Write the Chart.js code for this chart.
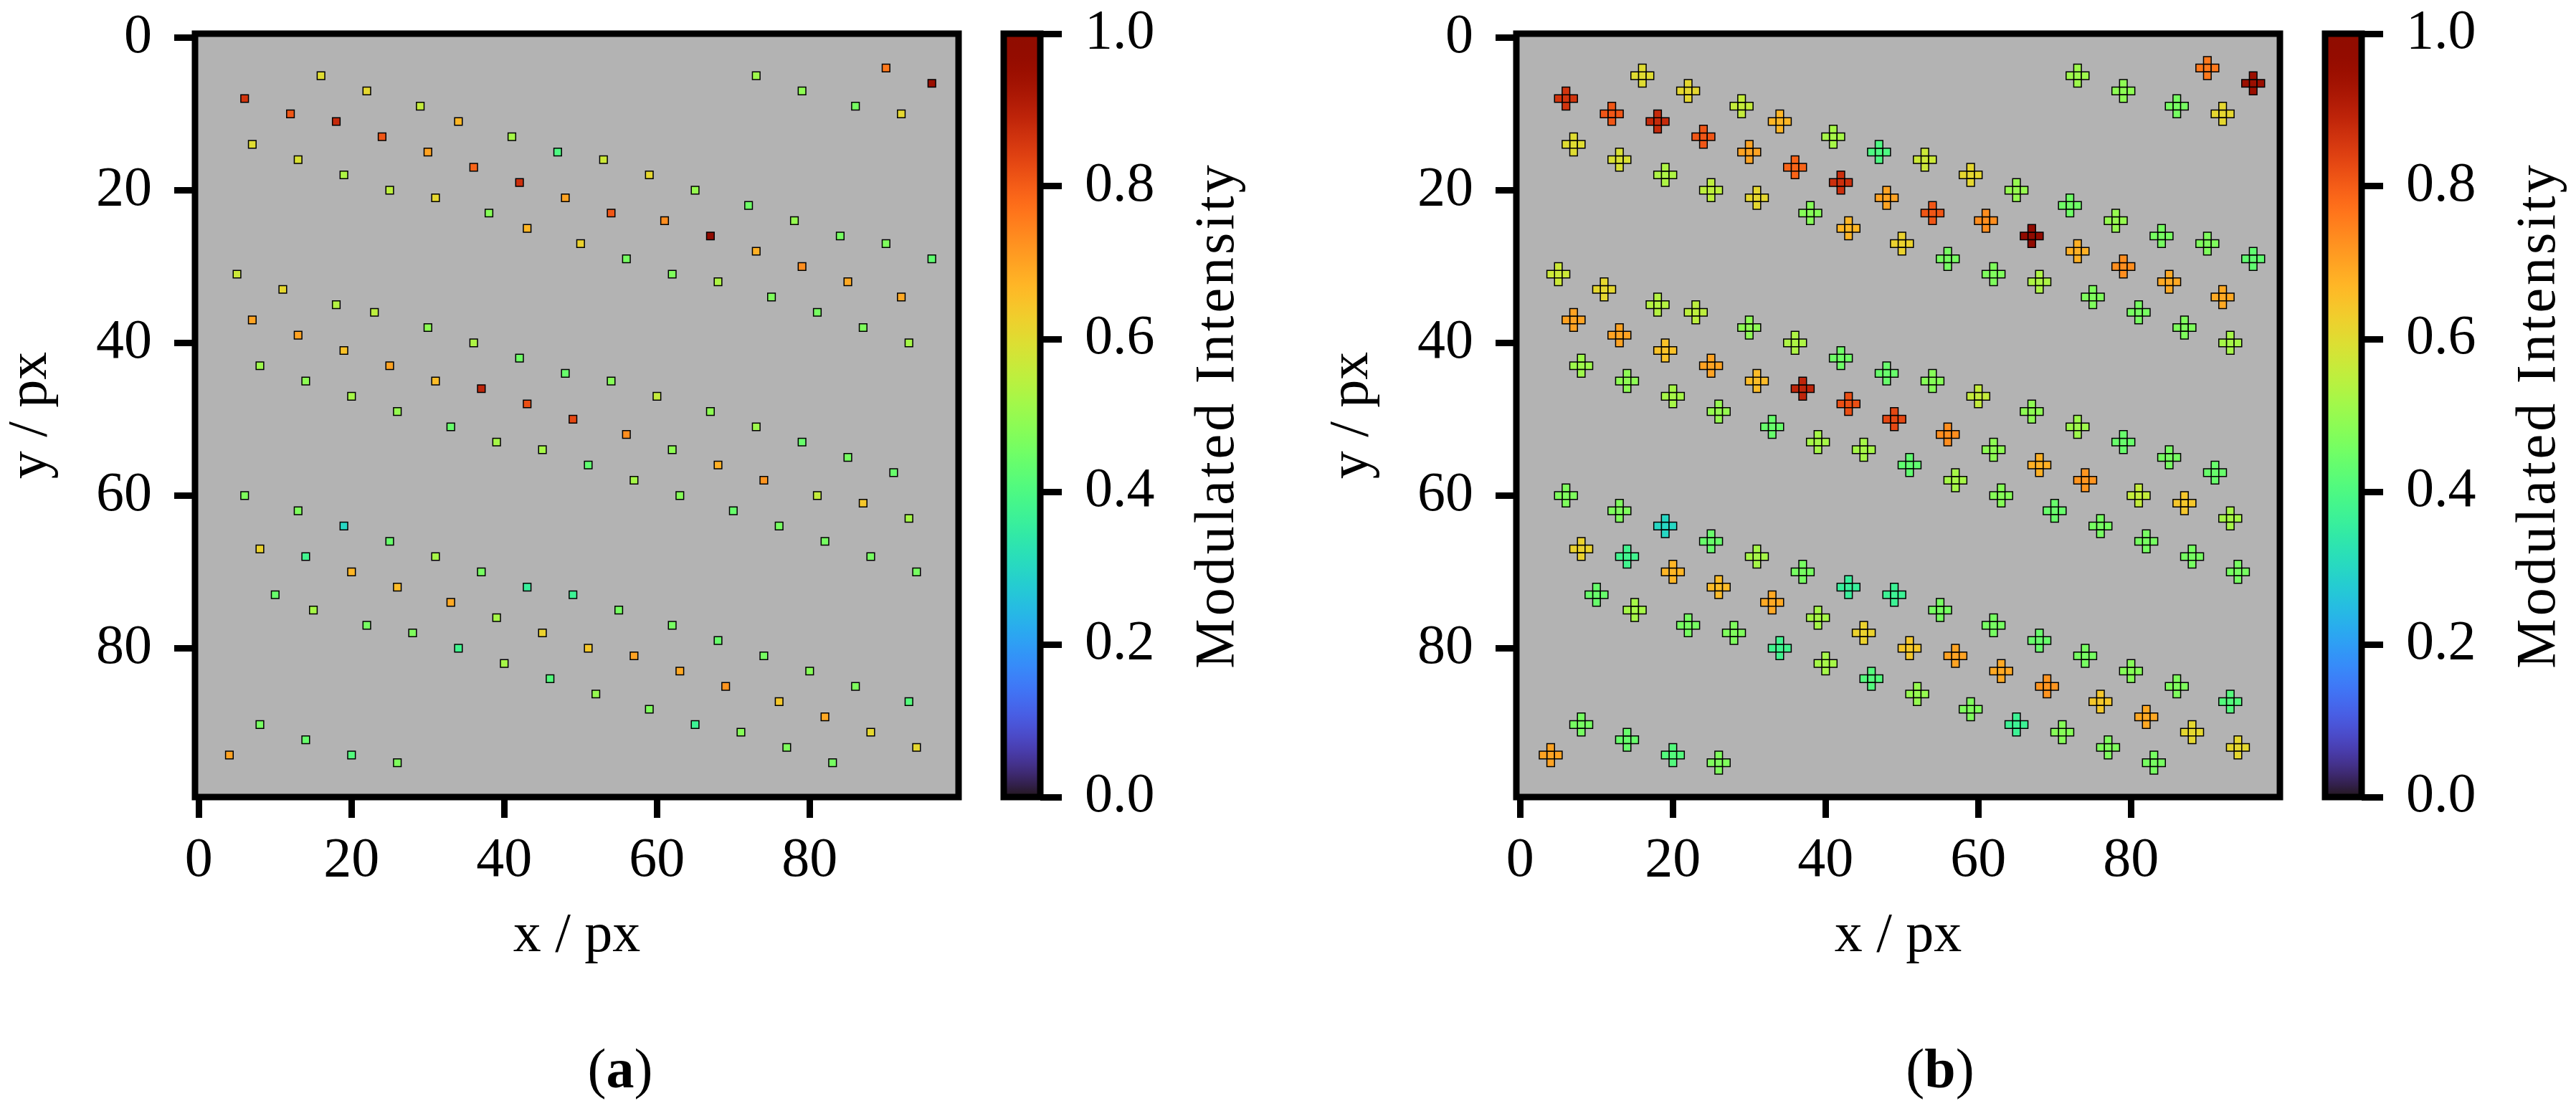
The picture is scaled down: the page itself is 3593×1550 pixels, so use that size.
<!DOCTYPE html>
<html>
<head>
<meta charset="utf-8">
<script src="https://cdn.jsdelivr.net/npm/chart.js@4.4.1/dist/chart.umd.min.js"></script>
<style>
  html, body { margin: 0; padding: 0; background: #fff; overflow: hidden; }
  #wrap { position: relative; width: 3593px; height: 1550px; overflow: hidden; }
  canvas { position: absolute; top: 0; }
  .tag { position: absolute; width: 400px; text-align: center; top: 1452px;
         font: 78px/1 'Liberation Serif', serif; color: #000; }
</style>
</head>
<body>
<div id="wrap">
  <canvas id="scatA" width="1380" height="1550" style="left:0px"></canvas>
  <canvas id="cbA" width="390" height="1550" style="left:1360px"></canvas>
  <canvas id="scatB" width="1380" height="1550" style="left:1843px"></canvas>
  <canvas id="cbB" width="390" height="1550" style="left:3203px"></canvas>
  <div class="tag" style="left:665px">(<b>a</b>)</div>
  <div class="tag" style="left:2506px">(<b>b</b>)</div>
</div>
<script>
// pixel positions of the detected spots (x, y in px) and their modulated intensity
const xs = [
  6, 12, 18, 24, 30, 36, 42, 48, 54, 61, 67, 73, 79, 85, 92,
  16, 22, 29, 34, 41, 47, 53, 59, 65, 72, 78, 84, 90, 96,
  7, 13, 19, 25, 31, 38, 43, 50, 56, 62, 68, 75, 81, 87, 93,
  73, 79, 86, 92, 90, 96,
  5, 11, 18, 23, 30, 36, 42, 48, 54, 60, 67, 73, 79, 85, 91,
  7, 13, 19, 25, 31, 37, 43, 49, 56, 62, 68, 74, 81, 87, 93,
  8, 14, 20, 26, 33, 39, 45, 51, 57, 63, 70, 76, 82, 88, 94,
  6, 13, 19, 25, 31, 37, 43, 49, 55, 62, 68, 74, 80, 86, 93,
  8, 14, 20, 26, 33, 39, 45, 51, 57, 63, 69, 76, 82, 88, 94,
  10, 15, 22, 28, 34, 40, 46, 52, 59, 65, 71, 77, 83,
  4, 8, 14, 20, 26
];
const ys = [
  8, 10, 11, 13, 15, 17, 19, 21, 23, 24, 26, 28, 30, 32, 34,
  5, 7, 9, 11, 13, 15, 16, 18, 20, 22, 24, 26, 27, 29,
  14, 16, 18, 20, 21, 23, 25, 27, 29, 31, 32, 34, 36, 38, 40,
  5, 7, 9, 10, 4, 6,
  31, 33, 35, 36, 38, 40, 42, 44, 45, 47, 49, 51, 53, 55, 57,
  37, 39, 41, 43, 45, 46, 48, 50, 52, 54, 56, 58, 60, 61, 63,
  43, 45, 47, 49, 51, 53, 54, 56, 58, 60, 62, 64, 66, 68, 70,
  60, 62, 64, 66, 68, 70, 72, 73, 75, 77, 79, 81, 83, 85, 87,
  67, 68, 70, 72, 74, 76, 78, 80, 81, 83, 85, 87, 89, 91, 93,
  73, 75, 77, 78, 80, 82, 84, 86, 88, 90, 91, 93, 95,
  94, 90, 92, 94, 95
];
const vals = [
  0.86, 0.81, 0.88, 0.81, 0.70, 0.79, 0.87, 0.70, 0.81, 0.73, 0.98, 0.68, 0.73, 0.69, 0.69,
  0.60, 0.61, 0.56, 0.67, 0.52, 0.40, 0.57, 0.61, 0.50, 0.45, 0.50, 0.46, 0.47, 0.43,
  0.60, 0.59, 0.53, 0.55, 0.61, 0.48, 0.67, 0.62, 0.46, 0.47, 0.53, 0.47, 0.46, 0.47, 0.52,
  0.51, 0.49, 0.46, 0.61, 0.76, 0.95,
  0.57, 0.61, 0.54, 0.55, 0.49, 0.53, 0.45, 0.44, 0.48, 0.56, 0.49, 0.51, 0.44, 0.46, 0.44,
  0.70, 0.70, 0.65, 0.70, 0.66, 0.89, 0.82, 0.83, 0.73, 0.49, 0.68, 0.72, 0.56, 0.64, 0.52,
  0.51, 0.49, 0.52, 0.50, 0.44, 0.52, 0.52, 0.43, 0.52, 0.48, 0.44, 0.46, 0.46, 0.46, 0.46,
  0.47, 0.47, 0.30, 0.44, 0.52, 0.46, 0.36, 0.37, 0.46, 0.46, 0.44, 0.46, 0.48, 0.47, 0.41,
  0.62, 0.38, 0.67, 0.66, 0.69, 0.52, 0.62, 0.64, 0.70, 0.69, 0.72, 0.64, 0.69, 0.61, 0.61,
  0.44, 0.52, 0.46, 0.47, 0.38, 0.52, 0.41, 0.50, 0.47, 0.37, 0.48, 0.47, 0.46,
  0.70, 0.46, 0.44, 0.41, 0.47
];

const xTicks = [0, 20, 40, 60, 80];
const yTicks = [0, 20, 40, 60, 80];
const cbTicks = [0, 0.2, 0.4, 0.6, 0.8, 1.0];
// cells of the "+" neighbourhood used in panel (b)
const plusCells = [[0, 0], [-1, 0], [1, 0], [0, -1], [0, 1]];

Chart.defaults.font.family = "'Liberation Serif', serif";
Chart.defaults.font.size = 78;
Chart.defaults.color = '#000';

// turbo colormap (polynomial approximation)
function turbo(t) {
  t = Math.min(1, Math.max(0, t));
  const r = 0.13572138 + t * (4.61539260 + t * (-42.66032258 + t * (132.13108234 + t * (-152.94239396 + t * 59.28637943))));
  const g = 0.09140261 + t * (2.19418839 + t * (4.84296658 + t * (-14.18503333 + t * (4.27729857 + t * 2.82956604))));
  const b = 0.10667330 + t * (12.64194608 + t * (-60.58204836 + t * (110.36276771 + t * (-89.90310912 + t * 27.34824973))));
  const c = v => Math.round(255 * Math.min(1, Math.max(0, v)));
  return `rgb(${c(r)},${c(g)},${c(b)})`;
}

// grey axes background, thick frame, optional rotated colorbar label
const framePlugin = {
  id: 'frame',
  defaults: { bg: null, label: null, labelX: 0 },
  beforeDatasetsDraw(chart, args, opts) {
    if (!opts.bg) return;
    const a = chart.chartArea, ctx = chart.ctx;
    ctx.save();
    ctx.fillStyle = opts.bg;
    ctx.fillRect(a.left, a.top, a.right - a.left, a.bottom - a.top);
    ctx.restore();
  },
  afterDraw(chart, args, opts) {
    const a = chart.chartArea, ctx = chart.ctx;
    ctx.save();
    ctx.strokeStyle = '#000';
    ctx.lineWidth = 9;
    ctx.strokeRect(a.left, a.top, a.right - a.left, a.bottom - a.top);
    if (opts.label) {
      ctx.translate(opts.labelX, (a.top + a.bottom) / 2);
      ctx.rotate(-Math.PI / 2);
      ctx.fillStyle = '#000';
      ctx.font = "78px 'Liberation Serif', serif";
      ctx.letterSpacing = '4px';
      ctx.textAlign = 'center';
      ctx.textBaseline = 'alphabetic';
      ctx.fillText(opts.label, 0, 0);
    }
    ctx.restore();
  }
};
Chart.register(framePlugin);

const tickGrid = { drawOnChartArea: false, drawTicks: true, tickLength: 29, tickWidth: 9, tickColor: '#000' };

function scatterChart(id, pts) {
  const cell = c => {
    const s = c.chart.scales.x;
    return s ? Math.abs(s.getPixelForValue(1) - s.getPixelForValue(0)) * Math.SQRT1_2 : 7.5;
  };
  return new Chart(document.getElementById(id), {
    type: 'scatter',
    data: {
      datasets: [{
        data: pts,
        pointStyle: 'rect',
        pointRadius: cell,
        pointHoverRadius: cell,
        pointBackgroundColor: c => turbo(c.raw.v),
        pointBorderColor: '#000',
        pointBorderWidth: 1.5
      }]
    },
    options: {
      responsive: false,
      animation: false,
      events: [],
      devicePixelRatio: 1,
      layout: { padding: { left: 0, top: 47, right: 43, bottom: 0 } },
      plugins: {
        legend: { display: false },
        tooltip: { enabled: false },
        frame: { bg: '#b3b3b3' }
      },
      scales: {
        x: {
          type: 'linear', position: 'bottom', min: -0.5, max: 99.5,
          afterBuildTicks: s => { s.ticks = xTicks.map(v => ({ value: v })); },
          afterFit: s => { s.height = 438; s.paddingLeft = 0; s.paddingRight = 0; },
          border: { display: false },
          grid: tickGrid,
          ticks: { padding: 22, autoSkip: false, maxRotation: 0, font: { size: 78, lineHeight: 1 } },
          title: { display: true, text: 'x / px', font: { size: 78, lineHeight: 1 }, padding: { top: 0, bottom: 204 } }
        },
        y: {
          type: 'linear', position: 'left', reverse: true, min: -0.5, max: 99.5,
          afterBuildTicks: s => { s.ticks = yTicks.map(v => ({ value: v })); },
          afterFit: s => { s.width = 272; s.paddingTop = 0; s.paddingBottom = 0; },
          border: { display: false },
          grid: tickGrid,
          ticks: { padding: 31, autoSkip: false, font: { size: 78, lineHeight: 1 } },
          title: { display: true, text: 'y / px', font: { size: 78, lineHeight: 1 }, padding: { top: 5, bottom: 0 } }
        }
      }
    }
  });
}

function colorbar(id) {
  const grad = c => {
    const chart = c.chart, y = chart.scales.y;
    if (!chart.chartArea || !y) return '#888';
    const g = chart.ctx.createLinearGradient(0, y.getPixelForValue(0), 0, y.getPixelForValue(1));
    for (let i = 0; i <= 64; i++) g.addColorStop(i / 64, turbo(i / 64));
    return g;
  };
  return new Chart(document.getElementById(id), {
    type: 'bar',
    data: {
      labels: [''],
      datasets: [{ data: [[0, 1]], barPercentage: 1, categoryPercentage: 1, borderWidth: 0, backgroundColor: grad }]
    },
    options: {
      responsive: false,
      animation: false,
      events: [],
      devicePixelRatio: 1,
      layout: { padding: { left: 40, top: 47, right: 0, bottom: 438 } },
      plugins: {
        legend: { display: false },
        tooltip: { enabled: false },
        frame: { label: 'Modulated Intensity', labelX: 360 }
      },
      scales: {
        x: { display: false },
        y: {
          position: 'right', min: 0, max: 1,
          afterBuildTicks: s => { s.ticks = cbTicks.map(v => ({ value: v })); },
          afterFit: s => { s.width = 299; s.paddingTop = 0; s.paddingBottom = 0; },
          border: { display: false },
          grid: { drawOnChartArea: false, drawTicks: true, tickLength: 30, tickWidth: 9, tickColor: '#000' },
          ticks: { padding: 32, autoSkip: false, font: { size: 78, lineHeight: 1 }, callback: v => Number(v).toFixed(1) }
        }
      }
    }
  });
}

const spots = xs.map((x, i) => ({ x: x, y: ys[i], v: vals[i] }));
const plusSpots = spots.flatMap(p => plusCells.map(([dx, dy]) => ({ x: p.x + dx, y: p.y + dy, v: p.v })));

scatterChart('scatA', spots);
colorbar('cbA');
scatterChart('scatB', plusSpots);
colorbar('cbB');
</script>
</body>
</html>
